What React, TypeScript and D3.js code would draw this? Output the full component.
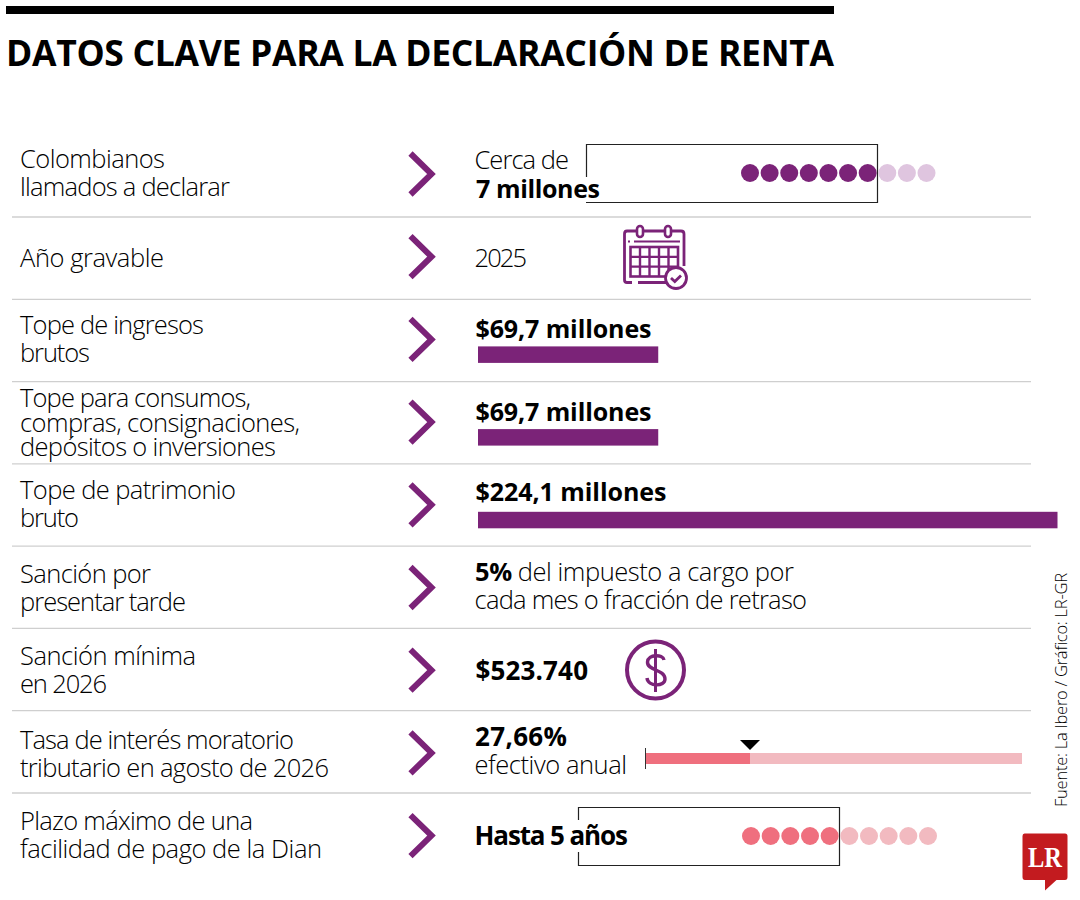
import React from "react";
import * as d3 from "d3";

const title = "DATOS CLAVE PARA LA DECLARACIÓN DE RENTA";
const source = "Fuente: La Ibero / Gráfico: LR-GR";
const labels: string[][] = [
  ["Colombianos", "llamados a declarar"],
  ["Año gravable"],
  ["Tope de ingresos", "brutos"],
  ["Tope para consumos,", "compras, consignaciones,", "depósitos o inversiones"],
  ["Tope de patrimonio", "bruto"],
  ["Sanción por", "presentar tarde"],
  ["Sanción mínima", "en 2026"],
  ["Tasa de interés moratorio", "tributario en agosto de 2026"],
  ["Plazo máximo de una", "facilidad de pago de la Dian"],
];
const labelWidths: number[][] = [
  [145, 210], [144], [184, 70], [231, 280, 256], [216, 59], [131, 166], [176, 87], [274, 309], [233, 302],
];
const labelFirstBaseline = [168, 267, 334, 407, 499, 583, 665, 749, 830];
const labelLeading = [28, 28, 28, 24.5, 28, 28, 28, 28, 28];

const barLabels = ["$69,7 millones", "$69,7 millones", "$224,1 millones"];
const barLabelWidths = [176, 176, 191];
const barValues = [69.7, 69.7, 224.1];
const barRows = [2, 3, 4];
const declarantsFilled = 7;
const installmentsFilled = 5;
const dotSlots = d3.range(10);
const interestRate = 27.66;

const PURPLE = "#7b2378";
const PURPLE_LIGHT = "#dfc5df";
const PINK = "#ef6f7e";
const PINK_LIGHT = "#f2bac0";
const FONT = "'Open Sans', sans-serif";

const rowCenter = d3.scaleLinear().domain([0, 8]).range([174, 835.6]);
const sepY = d3.scaleLinear().domain([0, 7]).range([217, 793]);
const barX = d3.scaleLinear().domain([0, 224.1]).range([478, 1057.5]);
const rateX = d3.scaleLinear().domain([0, 100]).range([646, 1022]);
const dots1 = d3.scaleLinear().domain([0, 9]).range([750, 926.5]);
const dots2 = d3.scaleLinear().domain([0, 9]).range([751, 928]);

const T = ({ x, y, b, size = 25.5, w, children }: any) => (
  <text x={x} y={y} fontFamily={FONT} fontSize={size} fontWeight={b ? 700 : 300}
    textLength={w} lengthAdjust={w ? "spacing" : undefined} fill="#000">{children}</text>
);

const Calendar = () => (
  <g fill="none" stroke={PURPLE} strokeWidth={2.6}>
    <path d="M668 282.5 H638 M632 282.5 H627 Q624.5 282.5 624.5 280 V234 Q624.5 231 627 231 H637 M644 231 H664 M671 231 H681 Q684 231 684 234 V266" strokeWidth={2.8} />
    <rect x={637} y={226} width={6} height={11} rx={3} />
    <rect x={665} y={226} width={6} height={11} rx={3} />
    <path d="M634 241.5 H680 M628 241.5 H630" strokeWidth={2} />
    <rect x={630.5} y={247} width={47.5} height={29.5} />
    {d3.range(1, 5).map((i) => <path key={`v${i}`} d={`M${630.5 + i * 9.5} 247 V276.5`} strokeWidth={2.4} />)}
    {d3.range(1, 3).map((i) => <path key={`h${i}`} d={`M630.5 ${247 + i * 9.83} H678`} strokeWidth={2.4} />)}
    <circle cx={676} cy={278} r={10.5} fill="#fff" strokeWidth={2.8} />
    <path d="M671 278 L674.8 281.5 L681 275.5" strokeWidth={2.8} />
  </g>
);

const Dollar = () => (
  <g fill="none" stroke={PURPLE}>
    <ellipse cx={655.5} cy={670} rx={28.5} ry={28.5} strokeWidth={4} />
    <path d="M664 660 C663 654 648 654 647.5 662 C647 671 665 669 665 679 C665 687 648 687 647 678" strokeWidth={3.4} />
    <path d="M655.5 649 V692" strokeWidth={3} />
  </g>
);

export default function App() {
  return (
    <svg width={1080} height={900} viewBox="0 0 1080 900"
      style={{ position: "absolute", left: 0, top: 0, background: "#fff" }}>
      <rect x={6} y={6} width={828} height={8} fill="#000" />
      <text x={6} y={66} fontFamily={FONT} fontSize={35.5} fontWeight={700} fill="#000"
        textLength={828} lengthAdjust="spacing">{title}</text>

      {d3.range(8).map((i) => (
        <line key={i} x1={12} x2={1031} y1={sepY(i)} y2={sepY(i)} stroke="#cfcfcf" strokeWidth={1.3} />
      ))}

      {labels.map((lines, i) => lines.map((l, j) => (
        <T key={`${i}-${j}`} x={20} y={labelFirstBaseline[i] + j * labelLeading[i]} w={labelWidths[i][j]}>{l}</T>
      )))}

      {labels.map((_, i) => {
        const c = rowCenter(i);
        return <path key={i} d={`M410.5 ${c - 20.5} L431.5 ${c} L410.5 ${c + 20.5}`} fill="none" stroke={PURPLE} strokeWidth={6} />;
      })}

      {/* Row 1 */}
      <T x={474.5} y={169} w={94.5}>Cerca de</T>
      <path d="M586.5 177 V144.5 H877.5 V202.5 H586" fill="none" stroke="#222" strokeWidth={1.2} />
      <T x={476} y={198} b size={25} w={124}>7 millones</T>
      {dotSlots.map((k) => (
        <circle key={k} cx={dots1(k)} cy={173} r={9} fill={k < declarantsFilled ? PURPLE : PURPLE_LIGHT} />
      ))}

      {/* Row 2 */}
      <T x={474.5} y={266.5} w={52.5}>2025</T>
      <Calendar />

      {/* Bars */}
      {barValues.map((v, i) => {
        const c = rowCenter(barRows[i]);
        return (
          <g key={i}>
            <T x={475.5} y={c - 1 - (i === 2 ? 3 : 0)} b size={25} w={barLabelWidths[i]}>{barLabels[i]}</T>
            <rect x={barX(0)} y={c + 7} width={barX(v) - barX(0)} height={16.5} fill={PURPLE} />
          </g>
        );
      })}

      {/* Row 6 */}
      <text x={475} y={581} fontFamily={FONT} fontSize={25.5} fontWeight={300} fill="#000"
        textLength={319} lengthAdjust="spacing">
        <tspan fontWeight={700}>5%</tspan> del impuesto a cargo por
      </text>
      <T x={474.5} y={609} w={332.5}>cada mes o fracción de retraso</T>

      {/* Row 7 */}
      <T x={475.5} y={680} b size={26} w={112.5}>$523.740</T>
      <Dollar />

      {/* Row 8 */}
      <T x={475} y={745.5} b size={26} w={92}>27,66%</T>
      <T x={474.5} y={773.5} w={152.5}>efectivo anual</T>
      <rect x={rateX(0)} y={753} width={rateX(100) - rateX(0)} height={11} fill={PINK_LIGHT} />
      <rect x={rateX(0)} y={753} width={rateX(interestRate) - rateX(0)} height={11} fill={PINK} />
      <line x1={645.5} x2={645.5} y1={748} y2={769} stroke="#333" strokeWidth={1} />
      <path d={`M${rateX(interestRate) - 10} 740 H${rateX(interestRate) + 10} L${rateX(interestRate)} 750 Z`} fill="#000" />

      {/* Row 9 */}
      <path d="M578.5 820 V807.5 H839.5 V865.5 H578.5 V852" fill="none" stroke="#222" strokeWidth={1.2} />
      <T x={474.5} y={845} b size={26} w={153.5}>Hasta 5 años</T>
      {dotSlots.map((k) => (
        <circle key={k} cx={dots2(k)} cy={836} r={9} fill={k < installmentsFilled ? PINK : PINK_LIGHT} />
      ))}

      {/* Source */}
      <text transform="translate(1066.5 807) rotate(-90)" fontFamily={FONT} fontSize={16.5} fontWeight={300} fill="#000"
        textLength={234} lengthAdjust="spacing">{source}</text>

      {/* Logo */}
      <path d="M1024.5 833.5 H1065 Q1067.5 833.5 1067.5 836 V877 Q1067.5 880 1065 880 H1056.5 L1045 890.5 V880 H1025 Q1022.5 880 1022.5 877 V836 Q1022.5 833.5 1024.5 833.5 Z" fill="#c31b1f" />
      <text x={1028} y={867} fontFamily="'Liberation Serif', serif" fontWeight={700} fontSize={29} fill="#fff"
        textLength={34} lengthAdjust="spacingAndGlyphs">LR</text>
    </svg>
  );
}
